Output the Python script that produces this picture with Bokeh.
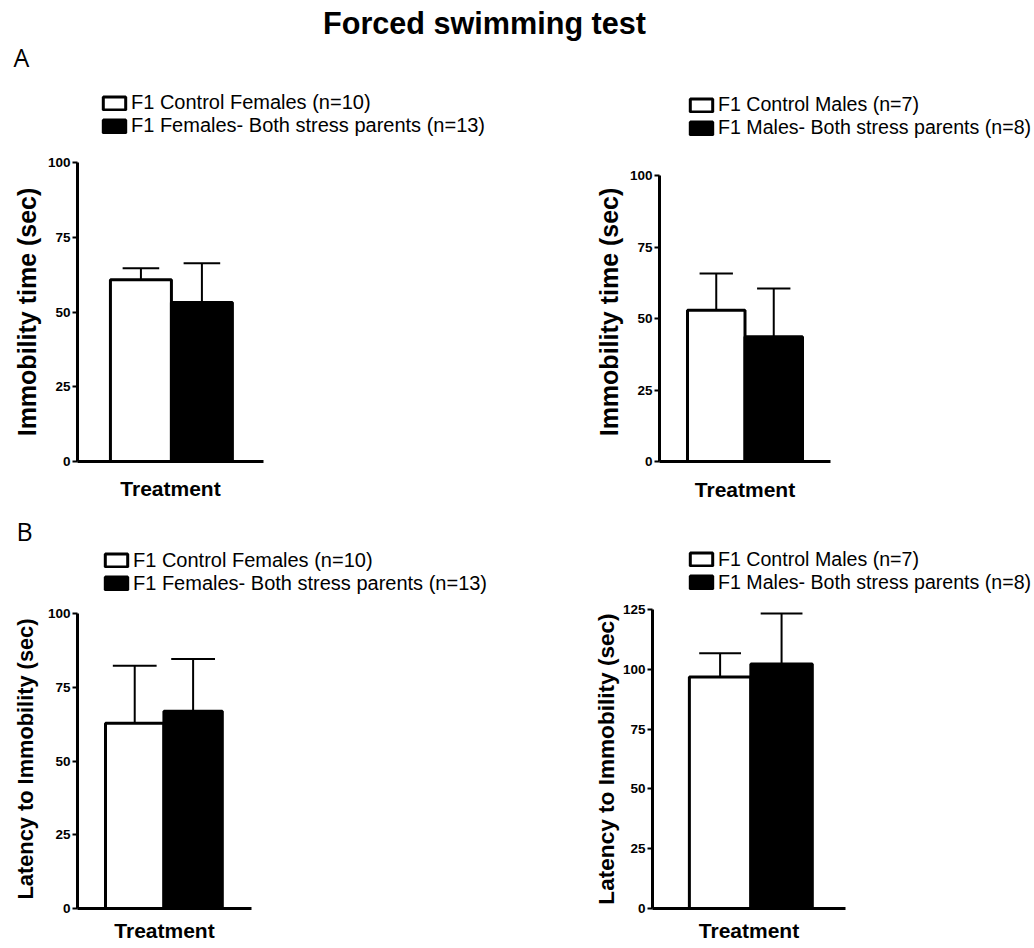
from bokeh.plotting import figure
from bokeh.models import Range1d, FixedTicker, Legend, LegendItem, Label, ColumnDataSource
from bokeh.layouts import column, row
from bokeh.embed import file_html
from bokeh.resources import INLINE

# ---------------- data ----------------
TITLE = "Forced swimming test"
PANEL_LETTERS = ["A", "B"]
X_LABEL = "Treatment"
Y_LABEL_IMM = "Immobility time (sec)"
Y_LABEL_LAT = "Latency to Immobility (sec)"

female_labels = ["F1 Control Females (n=10)", "F1 Females- Both stress parents (n=13)"]
male_labels = ["F1 Control Males (n=7)", "F1 Males- Both stress parents (n=8)"]

immobility_female_mean = [60.8, 53.2]
immobility_female_sem = [3.8, 13.1]
immobility_male_mean = [52.9, 43.6]
immobility_male_sem = [12.8, 16.9]
latency_female_mean = [62.8, 66.9]
latency_female_sem = [19.5, 17.7]
latency_male_mean = [96.8, 102.2]
latency_male_sem = [9.9, 21.1]

yticks_100 = [0, 25, 50, 75, 100]
yticks_125 = [0, 25, 50, 75, 100, 125]

# ---------------- styles ----------------
BAR_COLORS = ["white", "black"]
FONT = "Liberation Sans"
TOTAL_W = 1032


def make_source(means, sems, cap_w):
    xs = [i + 0.5 for i in range(len(means))]
    tops = [m + s for m, s in zip(means, sems)]
    return ColumnDataSource(dict(x=xs, top=means, color=BAR_COLORS[:len(means)],
                                 err=tops,
                                 cx0=[x - cap_w / 2 for x in xs],
                                 cx1=[x + cap_w / 2 for x in xs]))


def add_bars(p, src):
    return p.vbar(x="x", top="top", bottom=0, width=1.0, fill_color="color",
                  line_color="black", line_width=3, source=src)


def make_panel(W, H, borders, xr, yr, ymax, yticks, src, ylabel,
               ylabel_size, ylabel_standoff, xlabel_standoff):
    l, r, t, b = borders
    p = figure(width=W, height=H, output_backend="svg", toolbar_location=None,
               x_range=Range1d(*xr), y_range=Range1d(0, yr),
               min_border_left=l, min_border_right=r, min_border_top=t,
               min_border_bottom=b)
    p.outline_line_color = None
    p.xgrid.visible = False
    p.ygrid.visible = False
    p.background_fill_color = "white"
    p.border_fill_color = "white"

    add_bars(p, src)
    p.segment(x0="x", y0="top", x1="x", y1="err", line_color="black",
              line_width=2, source=src)
    p.segment(x0="cx0", y0="err", x1="cx1", y1="err", line_color="black",
              line_width=2, source=src)

    ya = p.yaxis[0]
    ya.ticker = FixedTicker(ticks=yticks)
    ya.bounds = (0, ymax)
    ya.axis_line_width = 3
    ya.axis_line_color = "black"
    ya.major_tick_line_width = 2
    ya.major_tick_out = 5
    ya.major_tick_in = 0
    ya.minor_tick_line_color = None
    ya.major_label_standoff = 2
    ya.major_label_text_font = FONT
    ya.major_label_text_font_style = "bold"
    ya.major_label_text_font_size = "13.5px"
    ya.major_label_text_color = "black"
    ya.axis_label = ylabel
    ya.axis_label_text_font = FONT
    ya.axis_label_text_font_style = "bold"
    ya.axis_label_text_font_size = ylabel_size
    ya.axis_label_text_color = "black"
    ya.axis_label_standoff = ylabel_standoff

    xa = p.xaxis[0]
    xa.ticker = FixedTicker(ticks=[])
    xa.axis_line_width = 3
    xa.axis_line_color = "black"
    xa.major_tick_out = 0
    xa.major_tick_in = 0
    xa.minor_tick_line_color = None
    xa.major_label_standoff = 0
    xa.axis_label = X_LABEL
    xa.axis_label_text_font = FONT
    xa.axis_label_text_font_style = "bold"
    xa.axis_label_text_font_size = "21px"
    xa.axis_label_text_color = "black"
    xa.axis_label_standoff = xlabel_standoff
    return p


def make_header(H, letter, letter_pos, legends, title_pos=None):
    h = figure(width=TOTAL_W, height=H, output_backend="svg",
               toolbar_location=None, x_axis_location=None,
               y_axis_location=None, min_border=0,
               x_range=Range1d(0, 2), y_range=Range1d(0, 150))
    h.outline_line_color = None
    h.xgrid.visible = False
    h.ygrid.visible = False
    if title_pos is not None:
        h.add_layout(Label(x=title_pos[0], y=title_pos[1], x_units="screen",
                           y_units="screen", text=TITLE, text_font=FONT,
                           text_font_style="bold", text_font_size="30.6px",
                           text_align="center", text_baseline="middle",
                           text_color="black"))
    h.add_layout(Label(x=letter_pos[0], y=letter_pos[1], x_units="screen",
                       y_units="screen", text=letter, text_font="Open Sans",
                       text_font_size="25px", text_color="black",
                       text_baseline="alphabetic", text_align="left"))
    for src, labels, loc, fsize in legends:
        r = add_bars(h, src)  # legend proxy, hidden
        r.visible = False
        lg = Legend(items=[LegendItem(label=labels[i], renderers=[r], index=i)
                           for i in range(len(labels))],
                    location=loc, orientation="vertical",
                    background_fill_alpha=0, border_line_color=None,
                    inactive_fill_alpha=0,
                    padding=0, margin=0, spacing=0, glyph_width=28,
                    glyph_height=16, label_standoff=3, label_height=22,
                    label_text_font=FONT, label_text_font_size=fsize,
                    label_text_color="black")
        h.add_layout(lg)
    return h


src1 = make_source(immobility_female_mean, immobility_female_sem, 0.6)
src2 = make_source(immobility_male_mean, immobility_male_sem, 0.58)
src3 = make_source(latency_female_mean, latency_female_sem, 0.75)
src4 = make_source(latency_male_mean, latency_male_sem, 0.68)

header1 = make_header(145, PANEL_LETTERS[0], (13, 89),
                      [(src1, female_labels, (100, 8), "20px"),
                       (src2, male_labels, (687, 6), "19.6px")],
                      title_pos=(484, 123))
p1 = make_panel(540, 365, (77, 277, 17, 49), (-0.54, 2.51), 100, 100,
                yticks_100, src1, Y_LABEL_IMM, "25px", 4, 15)
p2 = make_panel(492, 365, (119, 202, 17, 49), (-0.487, 2.487), 104.55, 100,
                yticks_100, src2, Y_LABEL_IMM, "25px", 4, 16)

header2 = make_header(88, PANEL_LETTERS[1], (16, 68),
                      [(src3, female_labels, (102, 3.5), "20px"),
                       (src4, male_labels, (687, 4.5), "19.6px")])
p3 = make_panel(540, 348, (77, 289, 11, 38), (-0.48, 2.50), 101.36, 100,
                yticks_100, src3, Y_LABEL_LAT, "21.8px", 7, 10)
p4 = make_panel(492, 348, (112, 187, 11, 38), (-0.60, 2.54), 125, 125,
                yticks_125, src4, Y_LABEL_LAT, "22.6px", 1, 10)

layout = column(header1, row(p1, p2), header2, row(p3, p4), spacing=0)

with open("out.html", "w") as f:
    f.write(file_html(layout, INLINE))
